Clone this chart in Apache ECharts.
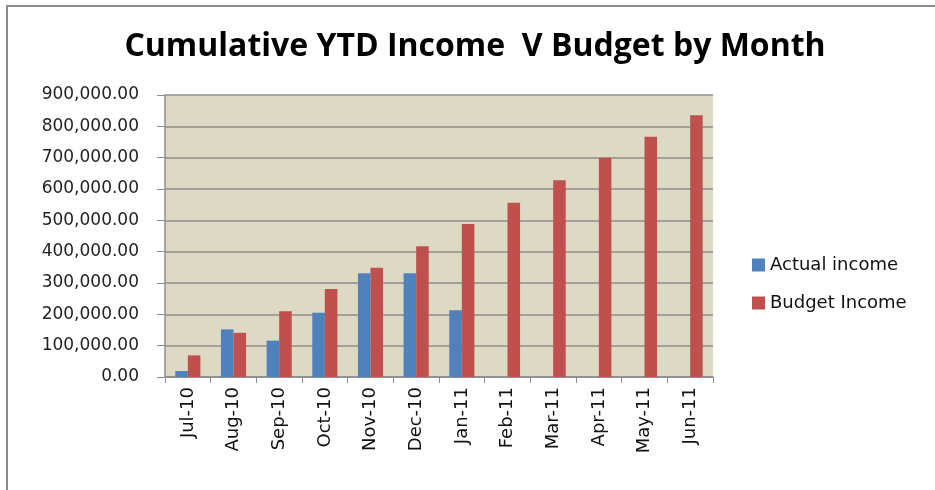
<!DOCTYPE html>
<html>
<head>
<meta charset="utf-8">
<script src="https://cdn.jsdelivr.net/npm/echarts@6/dist/echarts.min.js"></script>
<style>
  html, body { margin: 0; padding: 0; background: #fff; }
  #chart { width: 935px; height: 490px; }
</style>
</head>
<body>
<div id="chart"></div>
<script>
const months = ['Jul-10', 'Aug-10', 'Sep-10', 'Oct-10', 'Nov-10', 'Dec-10',
                'Jan-11', 'Feb-11', 'Mar-11', 'Apr-11', 'May-11', 'Jun-11'];
const actualIncome = [19000, 152000, 116000, 205000, 331000, 331000, 213000,
                      null, null, null, null, null];
const budgetIncome = [69000, 141000, 210000, 281000, 349000, 417000, 488000,
                      556000, 628000, 700000, 767000, 835000];

const titleFont = '"Open Sans", Lato, sans-serif';
const font = '"DejaVu Sans", "Open Sans", sans-serif';
const chart = echarts.init(document.getElementById('chart'));

chart.setOption({
  animation: false,
  backgroundColor: '#fff',
  title: {
    text: 'Cumulative YTD Income  V Budget by Month',
    left: 470,
    textAlign: 'center',
    top: 26,
    textStyle: { fontFamily: titleFont, fontSize: 32, fontWeight: 'bold', color: '#000' }
  },
  graphic: [
    { type: 'line', shape: { x1: 6, y1: 6, x2: 935, y2: 6 }, style: { stroke: '#8c8c8c', lineWidth: 2 } },
    { type: 'line', shape: { x1: 7, y1: 6, x2: 7, y2: 490 }, style: { stroke: '#8c8c8c', lineWidth: 2 } }
  ],
  legend: {
    orient: 'vertical',
    left: 747,
    top: 251,
    itemWidth: 13,
    itemHeight: 13,
    itemGap: 20,
    icon: 'rect',
    textStyle: { fontFamily: font, fontSize: 18, color: '#111' }
  },
  grid: {
    left: 165, right: 222, top: 95, bottom: 113,
    show: true, backgroundColor: '#ddd9c3', borderWidth: 0
  },
  xAxis: {
    type: 'category',
    data: months,
    axisLine: { lineStyle: { color: '#8c8c8c', width: 1.5 } },
    axisTick: { show: true, length: 6, lineStyle: { color: '#8c8c8c' } },
    axisLabel: { rotate: 90, margin: 10, fontFamily: font, fontSize: 18, color: '#111' }
  },
  yAxis: {
    type: 'value',
    min: 0, max: 900000, interval: 100000,
    axisLine: { show: true, lineStyle: { color: '#8c8c8c', width: 1.5 } },
    axisTick: { show: true, length: 8, lineStyle: { color: '#8c8c8c' } },
    splitLine: { lineStyle: { color: '#8c8c8c', width: 1.5 } },
    axisLabel: {
      margin: 26, fontFamily: font, fontSize: 17, color: '#222',
      formatter: v => v.toLocaleString('en-US', { minimumFractionDigits: 2, maximumFractionDigits: 2 })
    }
  },
  series: [
    {
      name: 'Actual income', type: 'bar', data: actualIncome,
      barGap: '0%', barCategoryGap: '45%',
      itemStyle: { color: '#4f81bd' }
    },
    {
      name: 'Budget Income', type: 'bar', data: budgetIncome,
      itemStyle: { color: '#c0504d' }
    }
  ]
});
</script>
</body>
</html>
